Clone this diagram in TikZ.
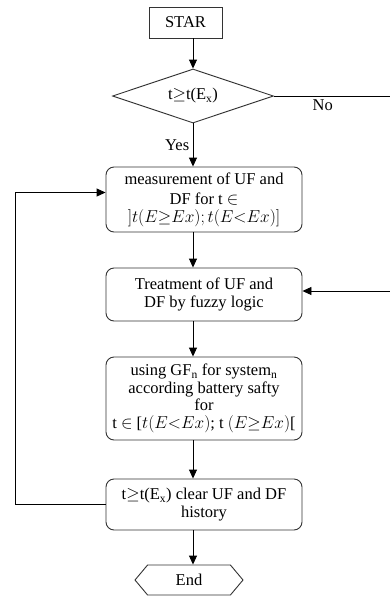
\documentclass[tikz,border=0pt]{standalone}
\usepackage{fontspec}
\setmainfont{Liberation Serif}
\usetikzlibrary{shapes.geometric,shapes.symbols,arrows.meta}
\begin{document}
\begin{tikzpicture}[x=1pt, y=-1pt, line width=0.9pt, >={Triangle[length=9pt,width=8pt]},
  font=\fontsize{16.5}{17.5}\selectfont,
  stepbox/.style={draw=black!80, rounded corners=8pt, minimum width=196pt, align=center, inner sep=2pt}]
\useasboundingbox (0,0) rectangle (390,598);
% Start and test
\node[draw=black!80, rectangle, minimum width=73pt, minimum height=31pt] (star) at (185.5,22.5) {STAR};
\node[draw=black!80, diamond, aspect=3, inner sep=0pt, minimum width=161pt, minimum height=54pt] (test) at (193,96) {t$\geq$t(E$_\mathrm{x}$)};
% Process steps
\node[stepbox, minimum height=65pt] (measure) at (204,199.5) {measurement of UF and\\[3pt] DF for t $\in$\\ $]t(E{\geq}Ex);t(E{<}Ex)]$};
\node[stepbox, minimum height=53pt] (fuzzy) at (204,294.5) {Treatment of UF and\\ DF by fuzzy logic};
\node[stepbox, minimum height=83pt] (using) at (204,398.5) {using GF$_\mathrm{n}$ for system$_\mathrm{n}$\\ according battery safty\\ for\\ t $\in$ [$t(E{<}Ex)$; t $(E{\geq}Ex)$[};
\node[stepbox, minimum height=51pt] (clear) at (204,504.5) {t$\geq$t(E$_\mathrm{x}$) clear UF and DF\\ history};
\node[draw=black!80, signal, signal to=west and east, signal pointer angle=100, inner sep=0pt, minimum width=108pt, minimum height=30pt] (finish) at (189,580) {End};
% Loose ends at the right border
\coordinate (noend) at (390,96);
\coordinate (back) at (390,291);
% Connectors
\draw[->] (star.south -| test.north) -- (test.north);
\draw (test.east) -- node[below, pos=0.42] {No} (noend);
\draw[->] (test.south) -- node[left] {Yes} (test.south |- measure.north);
\draw[->] (measure.south -| test.south) -- (fuzzy.north -| test.south);
\draw[->] (fuzzy.south -| test.south) -- (using.north -| test.south);
\draw[->] (using.south -| test.south) -- (clear.north -| test.south);
\draw[->] (clear.south -| test.south) -- (finish.north -| test.south);
\draw[->] (back) -- (back -| fuzzy.east);
\draw[->] (clear.west) -- ++(-90,0) |- ([yshift=7pt]measure.west);
\end{tikzpicture}
\end{document}
